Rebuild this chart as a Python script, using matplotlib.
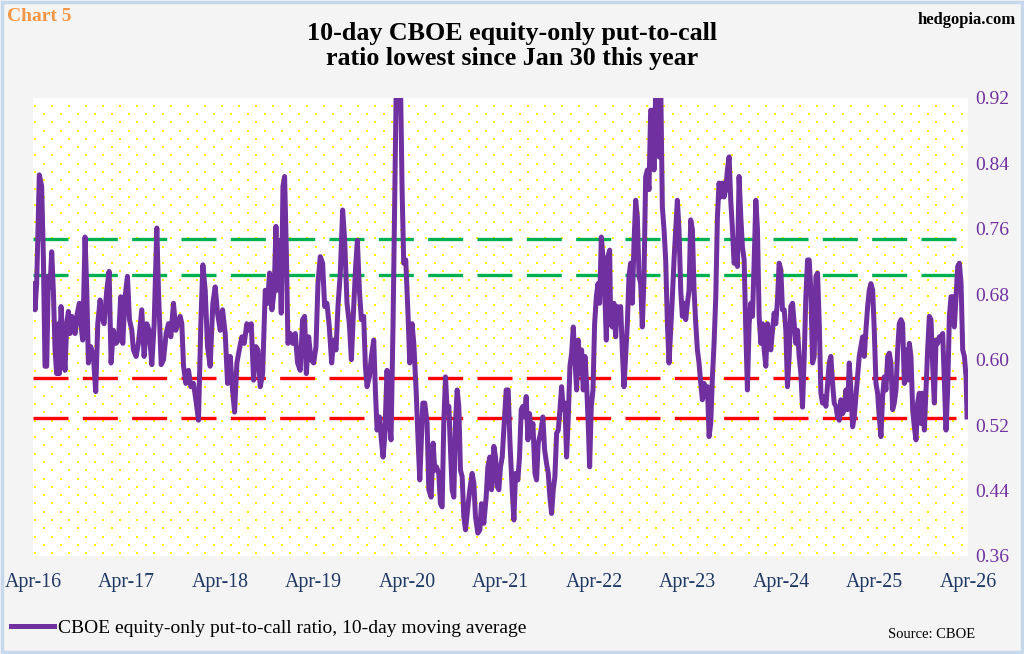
import numpy as np
import matplotlib.pyplot as plt
from matplotlib.patches import Rectangle

# months since Apr-2016, 10-day avg equity-only put/call ratio
months = [
    0.13, 0.26, 0.47, 0.81, 1.11, 1.33, 1.54, 1.76, 1.97, 2.19, 2.40, 2.61, 2.83, 3.04, 3.26, 3.38,
    3.60, 3.90, 4.11, 4.33, 4.54, 4.75, 4.97, 5.40, 5.61, 5.95, 6.13, 6.38, 6.68, 6.90, 7.11, 7.41,
    7.75, 8.05, 8.31, 8.61, 8.82, 9.12, 9.47, 9.77, 10.02, 10.32, 10.66, 10.96, 11.26, 11.52, 11.82,
    12.12, 12.38, 12.68, 12.89, 13.23, 13.53, 13.96, 14.26, 14.60, 14.90, 15.25, 15.55, 15.89, 16.10,
    16.45, 16.75, 17.09, 17.39, 17.69, 18.03, 18.33, 18.59, 18.89, 19.10, 19.32, 19.62, 19.96, 20.26,
    20.60, 20.90, 21.24, 21.54, 21.80, 22.10, 22.40, 22.74, 23.08, 23.38, 23.68, 24.03, 24.33, 24.67,
    24.97, 25.31,
    25.61, 25.87, 26.17, 26.47, 26.81, 27.11, 27.45, 27.75, 28.01, 28.31, 28.61, 28.87, 29.17, 29.47,
    29.81, 30.11, 30.36, 30.66, 30.96, 31.18, 31.39, 31.65, 31.86, 32.08, 32.29, 32.51, 32.72, 33.02,
    33.32, 33.66, 33.96, 34.30, 34.60, 34.86, 35.08, 35.38, 35.68, 36.02, 36.32, 36.57, 36.87, 37.17,
    37.43, 37.73, 38.03, 38.33, 38.59, 38.89, 39.14, 39.44, 39.74, 40.00, 40.30, 40.60, 40.86, 41.16,
    41.41, 41.63, 41.89, 42.14, 42.44, 42.66, 42.87, 43.17, 43.43, 43.73, 43.94, 44.16, 44.46, 44.71,
    44.93, 45.14, 45.44, 45.65, 45.95, 46.21, 46.43, 46.64, 47.15, 47.37, 47.58, 47.84, 48.14, 48.35,
    48.65, 48.87, 49.17, 49.42, 49.64,
    50.03, 50.28, 50.58, 50.80, 51.10, 51.35, 51.57, 51.78, 52.08, 52.29, 52.51, 52.72, 52.94, 53.15,
    53.37, 53.58, 53.79, 54.01, 54.22, 54.44, 54.65, 54.86, 55.08, 55.29, 55.51, 55.81, 56.06, 56.36,
    56.58, 56.79, 57.09, 57.35, 57.56, 57.86, 58.16, 58.38, 58.63, 58.85, 59.15, 59.36, 59.58, 59.79,
    60.00, 60.22, 60.43, 60.73, 60.99, 61.20, 61.50, 61.72, 61.93, 62.23, 62.44, 62.66, 62.87, 63.09,
    63.30, 63.52, 63.73, 63.94, 64.16, 64.42, 64.63, 64.84, 65.14, 65.44, 65.66, 65.91, 66.13, 66.34,
    66.56, 66.77, 66.98, 67.20, 67.41, 67.63, 67.84, 68.06, 68.27, 68.48, 68.70, 68.91, 69.13, 69.34,
    69.55, 69.77, 69.98, 70.20, 70.41, 70.62, 70.84, 71.05, 71.27, 71.44, 71.65, 71.87, 72.08, 72.30,
    72.51, 72.72, 72.94, 73.15, 73.37, 73.58, 73.79, 74.01,
    74.14, 74.35, 74.56, 74.78, 74.99, 75.21, 75.42, 75.63, 75.85, 76.06, 76.28, 76.49, 76.70, 76.92,
    77.13, 77.35, 77.56, 77.78, 77.99, 78.20, 78.42, 78.63, 78.85, 79.06, 79.27, 79.49, 79.70, 79.92,
    80.13, 80.35, 80.56, 80.77, 80.99, 81.20, 81.42, 81.63, 81.84, 82.06, 82.27, 82.49, 82.70, 82.91,
    83.13, 83.34, 83.56, 83.77, 83.99, 84.20, 84.41, 84.63, 84.84, 85.06, 85.27, 85.48, 85.70, 85.91,
    86.13, 86.34, 86.56, 86.77, 86.98, 87.20, 87.41, 87.63, 87.84, 88.05, 88.27, 88.48, 88.70, 88.91,
    89.12, 89.34, 89.55, 89.77, 89.98, 90.20, 90.41, 90.62, 90.84, 91.05, 91.27, 91.48, 91.69, 91.91,
    92.12, 92.34, 92.55, 92.77, 92.98, 93.19, 93.41, 93.62, 93.84, 94.05, 94.26, 94.48, 94.69, 94.91,
    95.12, 95.33, 95.55, 95.76, 95.98, 96.19, 96.41, 96.62, 96.83, 97.05, 97.26, 97.48, 97.69, 97.90,
    98.12, 98.33, 98.55,
    98.76, 98.98, 99.19, 99.41, 99.62, 99.83, 100.05, 100.26, 100.48, 100.69, 100.91, 101.12, 101.33,
    101.55, 101.76, 101.98, 102.19, 102.40, 102.62, 102.83, 103.05, 103.26, 103.48, 103.69, 103.90,
    104.12, 104.33, 104.55, 104.76, 104.97, 105.19, 105.40, 105.62, 105.83, 106.04, 106.26, 106.47,
    106.69, 106.90, 107.12, 107.33, 107.54, 107.76, 107.97, 108.19, 108.40, 108.61, 108.83, 109.04,
    109.26, 109.47, 109.69, 109.90, 110.11, 110.33, 110.54, 110.76, 110.97, 111.18, 111.40, 111.61,
    111.83, 112.04, 112.25, 112.47, 112.68, 112.90, 113.11, 113.33, 113.54, 113.75, 113.97, 114.18,
    114.40, 114.61, 114.82, 115.04, 115.25, 115.47, 115.68, 115.90, 116.11, 116.32, 116.54, 116.75,
    116.97, 117.18, 117.39, 117.61, 117.82, 118.04, 118.25, 118.46, 118.68, 118.89, 119.11, 119.32,
    119.54, 119.75, 119.88,
]
ratio = [
    0.693, 0.661, 0.693, 0.826, 0.812, 0.726, 0.592, 0.592, 0.702, 0.689, 0.732, 0.685, 0.612, 0.583, 0.644, 0.583,
    0.665, 0.612, 0.587, 0.644, 0.659, 0.632, 0.653, 0.632, 0.653, 0.669, 0.644, 0.624, 0.750, 0.685, 0.596, 0.616,
    0.604, 0.561, 0.644, 0.673, 0.653, 0.644, 0.685, 0.708, 0.596, 0.636, 0.620, 0.624, 0.677, 0.620, 0.677,
    0.702, 0.649, 0.636, 0.612, 0.604, 0.620, 0.661, 0.604, 0.644, 0.636, 0.594, 0.644, 0.761, 0.685,
    0.594, 0.600, 0.632, 0.644, 0.628, 0.669, 0.636, 0.644, 0.653, 0.644, 0.592, 0.571, 0.587, 0.567,
    0.571, 0.551, 0.526, 0.644, 0.716, 0.685, 0.616, 0.592, 0.669, 0.689, 0.657, 0.636, 0.661, 0.632,
    0.571, 0.604,
    0.563, 0.536, 0.596, 0.612, 0.628, 0.620, 0.644, 0.636, 0.644, 0.575, 0.616, 0.612, 0.567, 0.583,
    0.685, 0.669, 0.706, 0.661, 0.685, 0.763, 0.685, 0.746, 0.657, 0.812, 0.824, 0.734, 0.620, 0.632,
    0.620, 0.632, 0.596, 0.587, 0.649, 0.653, 0.583, 0.628, 0.600, 0.596, 0.616, 0.693, 0.726, 0.718,
    0.665, 0.669, 0.640, 0.596, 0.624, 0.612, 0.665, 0.706, 0.783, 0.746, 0.669, 0.644, 0.600, 0.665,
    0.714, 0.746, 0.685, 0.649, 0.653, 0.592, 0.567, 0.579, 0.604, 0.624, 0.563, 0.514, 0.530, 0.502,
    0.481, 0.506, 0.587, 0.530, 0.502, 0.644, 0.799, 0.950, 0.950, 0.808, 0.718, 0.722, 0.653, 0.596,
    0.644, 0.620, 0.563, 0.502, 0.453,
    0.547, 0.547, 0.522, 0.441, 0.432, 0.498, 0.465, 0.469, 0.461, 0.424, 0.420, 0.522, 0.579, 0.539,
    0.543, 0.490, 0.441, 0.432, 0.522, 0.563, 0.543, 0.465, 0.457, 0.408, 0.392, 0.420, 0.441, 0.461,
    0.449, 0.408, 0.388, 0.392, 0.424, 0.400, 0.432, 0.469, 0.481, 0.441, 0.494, 0.481, 0.445, 0.441,
    0.469, 0.481, 0.514, 0.563, 0.563, 0.502, 0.441, 0.404, 0.461, 0.453, 0.481, 0.539, 0.543, 0.530,
    0.555, 0.502, 0.534, 0.506, 0.522, 0.461, 0.453, 0.498, 0.510, 0.530, 0.490, 0.473, 0.461, 0.432,
    0.412, 0.441, 0.457, 0.510, 0.514, 0.539, 0.567, 0.539, 0.547, 0.481, 0.530, 0.592, 0.608, 0.640,
    0.600, 0.563, 0.624, 0.583, 0.612, 0.563, 0.604, 0.571, 0.518, 0.469, 0.543, 0.563, 0.644, 0.677,
    0.693, 0.669, 0.750, 0.726, 0.685, 0.624, 0.726, 0.734,
    0.644, 0.640, 0.669, 0.628, 0.665, 0.653, 0.665, 0.612, 0.567, 0.604, 0.644, 0.702, 0.718, 0.669,
    0.742, 0.795, 0.775, 0.702, 0.693, 0.640, 0.702, 0.824, 0.832, 0.808, 0.905, 0.905, 0.832, 0.930,
    0.940, 0.848, 0.940, 0.787, 0.759, 0.722, 0.644, 0.596, 0.636, 0.677, 0.722, 0.759, 0.795, 0.759,
    0.685, 0.653, 0.669, 0.649, 0.669, 0.685, 0.771, 0.759, 0.685, 0.644, 0.612, 0.596, 0.571, 0.551,
    0.571, 0.555, 0.567, 0.506, 0.522, 0.579, 0.620, 0.677, 0.775, 0.816, 0.799, 0.816, 0.799, 0.808,
    0.832, 0.848, 0.795, 0.759, 0.718, 0.726, 0.714, 0.824, 0.775, 0.738, 0.722, 0.636, 0.563, 0.644,
    0.669, 0.653, 0.718, 0.795, 0.759, 0.653, 0.620, 0.644, 0.612, 0.592, 0.644, 0.628, 0.612, 0.636,
    0.657, 0.644, 0.673, 0.718, 0.710, 0.661, 0.661, 0.636, 0.567, 0.604, 0.665, 0.669, 0.644, 0.620,
    0.636, 0.604, 0.583,
    0.542, 0.604, 0.677, 0.722, 0.722, 0.685, 0.596, 0.604, 0.702, 0.706, 0.644, 0.559, 0.547,
    0.555, 0.543, 0.571, 0.596, 0.604, 0.571, 0.547, 0.543, 0.530, 0.526, 0.551, 0.534,
    0.539, 0.563, 0.539, 0.596, 0.563, 0.518, 0.530, 0.555, 0.579, 0.604, 0.616, 0.628,
    0.604, 0.636, 0.665, 0.685, 0.693, 0.685, 0.636, 0.571, 0.559, 0.530, 0.506, 0.555,
    0.579, 0.563, 0.604, 0.608, 0.596, 0.539, 0.547, 0.563, 0.612, 0.644, 0.649, 0.644,
    0.571, 0.612, 0.575, 0.620, 0.604, 0.539, 0.518, 0.502, 0.547, 0.559, 0.522, 0.559,
    0.514, 0.563, 0.612, 0.653, 0.649, 0.592, 0.547, 0.624, 0.620, 0.628, 0.628, 0.632,
    0.571, 0.514, 0.563, 0.653, 0.677, 0.677, 0.640, 0.677, 0.714, 0.718, 0.693, 0.612,
    0.604, 0.579, 0.530,
]

green_levels = [0.748, 0.704]
red_levels = [0.578, 0.529]
y_ticks = [0.36, 0.44, 0.52, 0.60, 0.68, 0.76, 0.84, 0.92]
x_labels = ["Apr-16", "Apr-17", "Apr-18", "Apr-19", "Apr-20", "Apr-21",
            "Apr-22", "Apr-23", "Apr-24", "Apr-25", "Apr-26"]

SERIF = "Liberation Serif"
PURPLE = "#7030a0"

fig = plt.figure(figsize=(10.24, 6.54), dpi=100)
fig.patch.set_facecolor("#f4f4f5")
fig.patches.append(Rectangle((0.002, 0.003), 0.996, 0.994, transform=fig.transFigure,
                             fill=False, edgecolor="#c8d8ec", lw=2.5))

ax = fig.add_axes([33 / 1024, 98 / 654, 935 / 1024, 458 / 654])
ax.set_facecolor("white")

# yellow dotted backdrop (staggered grid)
W, H = 935, 470
pts = []
for r, yy in enumerate(np.arange(3, H, 8.5)):
    off = 0 if r % 2 == 0 else 8.5
    for xx in np.arange(2 + off, W - 5, 17):
        pts.append((xx / W, yy / H))
pts = np.array(pts)
ax.scatter(pts[:, 0], pts[:, 1], s=2.0, c="#ffff00", marker="s", lw=0,
           transform=ax.transAxes, zorder=0, clip_on=False)

x = np.array(months) / 12.0
for lv in green_levels:
    ax.axhline(lv, color="#00b050", lw=2.4, dashes=(10.5, 4.3), zorder=2)
for lv in red_levels:
    ax.axhline(lv, color="#ff0000", lw=2.4, dashes=(10.5, 4.3), zorder=2)
ax.plot(x, ratio, color=PURPLE, lw=3.6, solid_joinstyle="round", zorder=3)

ax.set_xlim(0, 10)
ax.set_ylim(0.36, 0.92)
for s in ax.spines.values():
    s.set_visible(False)
ax.yaxis.tick_right()
ax.set_yticks(y_ticks)
ax.set_yticklabels([f"{v:.2f}" for v in y_ticks], fontfamily=SERIF, fontsize=14, color=PURPLE)
ax.set_xticks(range(11))
ax.set_xticklabels(x_labels, fontfamily=SERIF, fontsize=14.3, color="#1f3864")
ax.tick_params(axis="both", length=0)
ax.tick_params(axis="y", pad=5)
ax.tick_params(axis="x", pad=12)

fig.text(0.5, 0.967, "10-day CBOE equity-only put-to-call\nratio lowest since Jan 30 this year",
         ha="center", va="top", fontfamily=SERIF, fontweight="bold", fontsize=18.7,
         linespacing=1.12)
fig.text(0.007, 0.988, "Chart 5", ha="left", va="top", fontfamily=SERIF, fontweight="bold",
         fontsize=14, color="#f79646")
fig.text(0.992, 0.981, "hedgopia.com", ha="right", va="top", fontfamily=SERIF, fontweight="bold",
         fontsize=12)

leg = fig.legend(ax.lines[-1:], ["CBOE equity-only put-to-call ratio, 10-day moving average"],
                 loc="center left", bbox_to_anchor=(0.011, 0.040), frameon=False,
                 borderpad=0, borderaxespad=0, handlelength=2.2, handletextpad=0.2,
                 prop={"family": SERIF, "size": 14})
fig.text(0.952, 0.030, "Source: CBOE", ha="right", va="center", fontfamily=SERIF, fontsize=10.5)

fig.savefig("out.png", dpi=100, facecolor=fig.get_facecolor())
